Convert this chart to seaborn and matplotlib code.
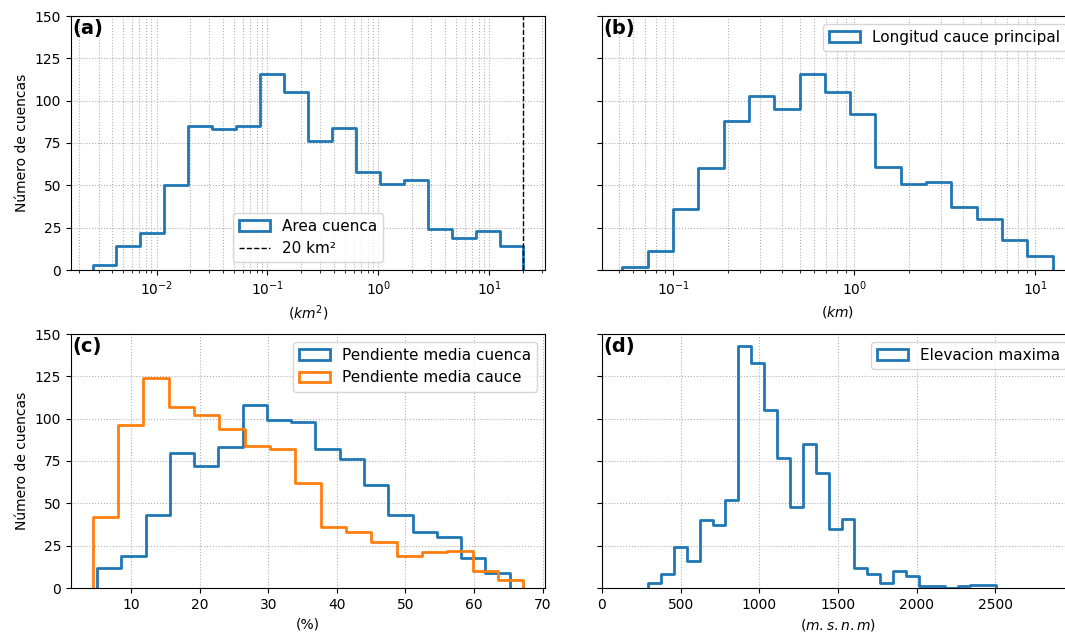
import numpy as np
import pandas as pd
import seaborn as sns
import matplotlib.pyplot as plt
from matplotlib.patches import Patch
from matplotlib.lines import Line2D

# Histogram counts
area_edges = np.logspace(np.log10(0.00265), np.log10(20.3), 19)
area_counts = [3, 14, 22, 50, 85, 83, 85, 116, 105, 76, 84, 58, 51, 53, 24, 19, 23, 14]

long_edges = np.logspace(np.log10(0.0522), np.log10(12.5), 18)
long_counts = [2, 11, 36, 60, 88, 103, 95, 116, 105, 92, 61, 51, 52, 37, 30, 18, 8]

pend_cuenca_edges = np.linspace(5.04, 65.2, 18)
pend_cuenca_counts = [12, 19, 43, 80, 72, 83, 108, 99, 98, 82, 76, 61, 43, 33, 30, 18, 9]

pend_cauce_edges = np.linspace(4.40, 67.2, 18)
pend_cauce_counts = [42, 96, 124, 107, 102, 94, 84, 82, 62, 36, 33, 27, 19, 21, 22, 10, 5]

elev_edges = np.linspace(293, 2506, 28)
elev_counts = [3, 8, 24, 16, 40, 37, 52, 143, 133, 105, 77, 48, 85, 68, 35, 41,
               12, 8, 3, 10, 7, 1, 1, 0, 1, 2, 2]

blue = '#1f77b4'
orange = '#ff7f0e'


def step_hist(ax, edges, counts, color, log=False):
    edges = np.asarray(edges, dtype=float)
    centers = (edges[:-1] + edges[1:]) / 2
    # tiny empty bins at both ends so the outline drops to zero
    if log:
        lo, hi = edges[0] * 0.9999, edges[-1] * 1.0001
    else:
        eps = (edges[-1] - edges[0]) * 1e-5
        lo, hi = edges[0] - eps, edges[-1] + eps
    bins = [float(lo)] + [float(e) for e in edges] + [float(hi)]
    df = pd.DataFrame({'val': centers, 'n': counts})
    sns.histplot(data=df, x='val', weights='n', bins=bins, element='step', fill=False,
                 color=color, linewidth=2, ax=ax)


fig = plt.figure(figsize=(10.65, 6.4), dpi=100)
W, H = 1065, 640
ty, by, h = (H - 270) / H, (H - 588) / H, 254 / H
left_box = [71 / W, 474 / W]
right_box = [602 / W, 472 / W]
ax_a = fig.add_axes([left_box[0], ty, left_box[1], h])
ax_b = fig.add_axes([right_box[0], ty, right_box[1], h], sharey=ax_a)
ax_c = fig.add_axes([left_box[0], by, left_box[1], h], sharey=ax_a)
ax_d = fig.add_axes([right_box[0], by, right_box[1], h], sharey=ax_a)

# (a) Area cuenca
step_hist(ax_a, area_edges, area_counts, blue, log=True)
ax_a.set_xscale('log')
ax_a.axvline(20, color='k', linestyle='--', linewidth=1)
ax_a.legend(handles=[Patch(facecolor='none', edgecolor=blue, linewidth=2, label='Area cuenca'),
                     Line2D([], [], color='k', linestyle='--', linewidth=1, label='20 km²')],
            loc='lower center', fontsize=11)
ax_a.set_xlabel('$(km^2)$')

# (b) Longitud cauce principal
step_hist(ax_b, long_edges, long_counts, blue, log=True)
ax_b.set_xscale('log')
ax_b.set_xlim(0.0403, 16.4)
ax_b.legend(handles=[Patch(facecolor='none', edgecolor=blue, linewidth=2,
                           label='Longitud cauce principal')], loc='upper right', fontsize=11)
ax_b.set_xlabel('$(km)$')

# (c) Pendientes
step_hist(ax_c, pend_cuenca_edges, pend_cuenca_counts, blue)
step_hist(ax_c, pend_cauce_edges, pend_cauce_counts, orange)
ax_c.legend(handles=[Patch(facecolor='none', edgecolor=blue, linewidth=2, label='Pendiente media cuenca'),
                     Patch(facecolor='none', edgecolor=orange, linewidth=2, label='Pendiente media cauce')],
            loc='upper right', fontsize=11)
ax_c.set_xlabel('(%)')

# (d) Elevacion maxima
step_hist(ax_d, elev_edges, elev_counts, blue)
ax_d.set_xlim(0, 3000)
ax_d.set_xticks([0, 500, 1000, 1500, 2000, 2500])
ax_d.legend(handles=[Patch(facecolor='none', edgecolor=blue, linewidth=2,
                           label='Elevacion maxima')], loc='upper right', fontsize=11)
ax_d.set_xlabel('$(m.s.n.m)$')

ax_a.set_ylim(0, 150)
ax_a.set_yticks(np.arange(0, 151, 25))

for ax, tag in zip([ax_a, ax_b, ax_c, ax_d], ['(a)', '(b)', '(c)', '(d)']):
    ax.grid(True, which='both', linestyle=':', color='#b0b0b0', linewidth=0.8)
    ax.text(0.003, 0.99, tag, transform=ax.transAxes, fontsize=14,
            fontweight='bold', va='top', ha='left')
for ax in [ax_a, ax_c]:
    ax.set_ylabel('Número de cuencas')
for ax in [ax_b, ax_d]:
    ax.set_ylabel('')
    ax.tick_params(labelleft=False)

fig.savefig('out.png', dpi=100)
